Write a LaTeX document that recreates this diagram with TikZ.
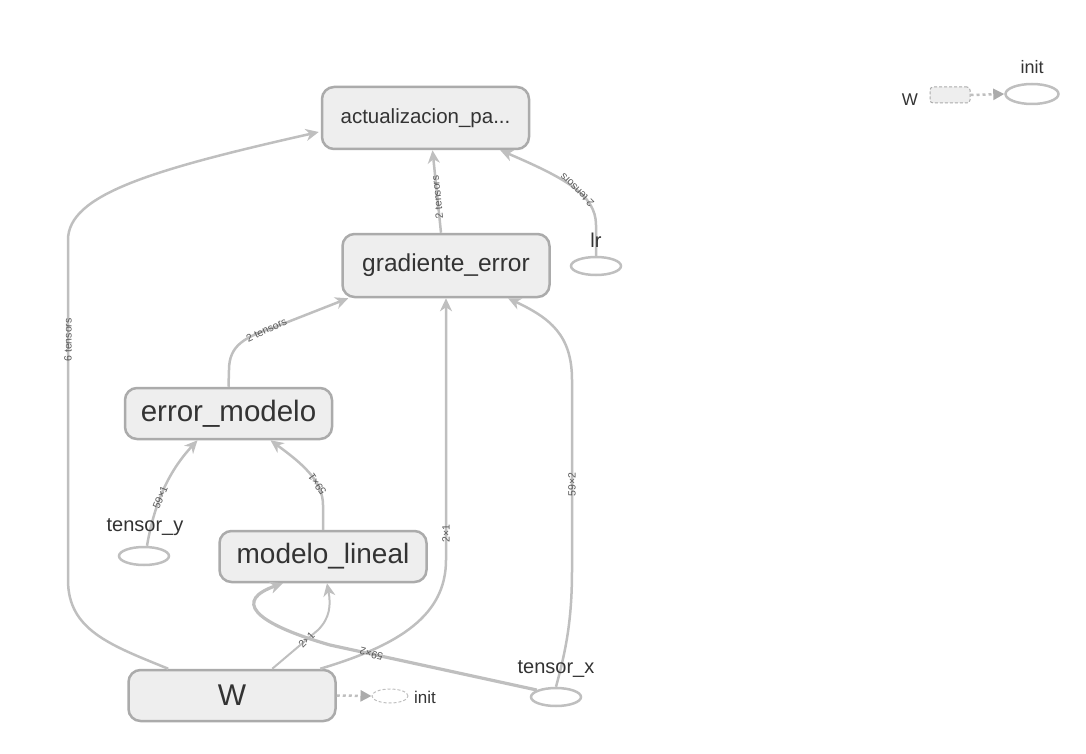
\documentclass[tikz,border=0pt]{standalone}
\usepackage{fontspec}
\setmainfont{Liberation Sans}
\usetikzlibrary{arrows.meta,calc,shapes.geometric}
\definecolor{edgegray}{HTML}{BFBFBF}
\definecolor{boxgray}{HTML}{EEEEEE}
\definecolor{rimgray}{HTML}{ABABAB}
\definecolor{txtgray}{HTML}{333333}
\definecolor{lblgray}{HTML}{5A5A5A}
\def\fsz#1{\fontsize{#1}{#1}\selectfont}
\tikzset{
	opbox/.style={draw=rimgray, fill=boxgray, line width=2.5pt, rounded corners=12pt,
		minimum width=207pt, minimum height=51pt, inner sep=0pt, text=txtgray},
	varnode/.style={ellipse, draw=edgegray, line width=2.5pt, minimum width=50pt,
		minimum height=18pt, inner sep=0pt},
	initnode/.style={ellipse, draw=edgegray, line width=1pt, dash pattern=on 3pt off 2pt,
		minimum width=36pt, minimum height=14pt, inner sep=0pt},
	vname/.style={text=txtgray, inner sep=0pt, font=\fsz{20}},
	elabel/.style={text=lblgray, inner sep=0.5pt, font=\fsz{10.5}},
	flow/.style={draw=edgegray, line width=2.5pt, -{Stealth[length=13pt,width=12pt,inset=4pt]}},
	thinflow/.style={flow, line width=2pt},
	thickflow/.style={flow, line width=3.2pt},
	dflow/.style={draw=edgegray, line width=2.5pt, dash pattern=on 3pt off 3pt,
		-{Triangle[length=11pt,width=11pt,fill=rimgray,color=rimgray]}},
}

\begin{document}
\begin{tikzpicture}[x=1pt,y=-1pt]
		%%%%% START %%%%%
		\useasboundingbox (0,0) rectangle (1086,754);
		
		% ops
		\node[opbox, minimum height=62pt, font=\fsz{20.5}] (act) at (425.5,118) {actualizacion\_pa...};
		\node[opbox, minimum height=63pt, font=\fsz{24.5}] (grad) at (446,265.5) {gradiente\_error};
		\node[opbox, font=\fsz{29.5}] (err) at (228.5,413.5) {error\_modelo};
		\node[opbox, font=\fsz{28}] (mod) at (323,556.5) {modelo\_lineal};
		\node[opbox, font=\fsz{30}] (W) at (232,695.5) {W};
		
		% variables
		\node[varnode] (lr) at (596,266) {};
		\node[varnode] (ty) at (144,556) {};
		\node[varnode] (tx) at (556,697) {};
		\node[initnode] (winit) at (390,696) {};
		
		% edges
		\draw[flow] ($(W.north west)+(41,0)$) .. controls (110,645) and (68,630) .. (68,580)
			-- node[elabel, rotate=90, pos=0.706] (l6t) {6 tensors} (68,240)
			.. controls (68,195) and (150,170) .. ($(act.west)+(-2,14)$);
		\draw[thinflow] ($(W.north west)+(145,0)$) -- node[elabel, rotate=45, pos=0.75] (l21a) {2×1} (318,630)
			.. controls (330,618) and (331,605) .. ($(mod.south)+(4,0)$);
		\draw[flow] ($(W.north west)+(193,0)$) .. controls (400,645) and (446,615) .. (446,560)
			-- node[elabel, rotate=90, pos=0.1] (l21b) {2×1} (grad.south);
		\draw[thickflow] (tx.160) -- node[elabel, rotate=165, pos=0.8] (l592a) {59×2} (330,645)
			.. controls (250,622) and (235,600) .. ($(mod.south)+(-40,0)$);
		\draw[flow] (tx.north) .. controls (566,650) and (572,620) .. (572,570)
			-- node[elabel, rotate=90, pos=0.45] (l592b) {59×2} (572,380)
			.. controls (572,335) and (550,318) .. ($(grad.south)+(62,0)$);
		\draw[flow] ($(ty.north)+(3,0)$) .. controls (155,500) and (170,470)
			.. node[elabel, rotate=68, pos=0.4] (l591a) {59×1} ($(err.south)+(-31,0)$);
		\draw[flow] (mod.north) -- (323,505) .. controls (323,480) and (300,462)
			.. node[elabel, rotate=124, pos=0.3] (l591b) {59×1} ($(err.south)+(42,0)$);
		\draw[flow] (err.north) -- (229,370) .. controls (229,345) and (245,337)
			.. node[elabel, rotate=25, pos=0.9] (l2ta) {2 tensors} (275,327) -- ($(grad.south west)+(7,0)$);
		\draw[flow] ($(grad.north)+(-5,0)$) -- node[elabel, rotate=96, pos=0.43] (l2tb) {2 tensors} ($(act.south)+(7,0)$);
		\draw[flow] (lr.north) -- (596,225) .. controls (596,195) and (565,178)
			.. node[elabel, rotate=135, pos=0.45] (l2tc) {2 tensors} ($(act.south east)+(-30,0)$);
		\draw[dflow] (W.east) -- (winit.west);
		
		% names of the variables
		\node[vname] (lrname) at (596,240) {lr};
		\node[vname] (tyname) at (145,527) {tensor\_y};
		\node[vname] (txname) at (556,669) {tensor\_x};
		\node[vname, font=\fsz{17}, anchor=west] (initname) at (414,697) {init};
		
		% legend
		\node[vname, font=\fsz{17}] (lgw) at (910,100) {W};
		\node[draw=rimgray, fill=boxgray, line width=1pt, dash pattern=on 3pt off 2pt, rounded corners=3pt,
			minimum width=40pt, minimum height=16pt, inner sep=0pt] (lgbox) at (950,95) {};
		\node[varnode, minimum width=53pt, minimum height=20pt] (lginit) at (1032,94) {};
		\node[vname, font=\fsz{18}] (lginitname) at (1032,67) {init};
		\draw[dflow] (lgbox.east) -- (lginit.west);
		
		%%%%% END %%%%%
	\end{tikzpicture}
\end{document}
